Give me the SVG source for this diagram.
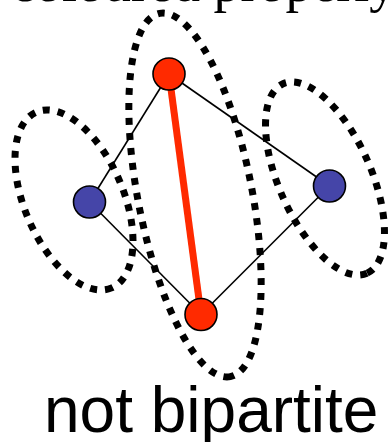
<svg xmlns="http://www.w3.org/2000/svg" width="389" height="442" viewBox="0 0 389 442">
<style>
.edge{stroke:#000;stroke-width:1.6;fill:none}
.odd{stroke:#ff2a00;stroke-width:7;fill:none}
.grp{stroke:#000;stroke-width:7;stroke-dasharray:7 8;fill:none}
.red{fill:#ff2a00;stroke:#000;stroke-width:1.6}
.blue{fill:#4545a8;stroke:#000;stroke-width:1.6}
.t1{font-family:"Liberation Serif",serif;font-size:54px;fill:#000}
.t2{font-family:"Liberation Sans",Arial,sans-serif;font-size:64px;fill:#000}
</style>
<rect width="389" height="442" fill="#fff"/>
<text class="t1" x="11" y="1">coloured properly</text>
<g id="connectors">
<line class="edge" x1="169" y1="74" x2="89.5" y2="202"/>
<line class="edge" x1="169" y1="74" x2="329.5" y2="186"/>
<line class="edge" x1="89.5" y1="202" x2="201" y2="314.5"/>
<line class="edge" x1="329.5" y1="186" x2="201" y2="314.5"/>
<line class="odd" x1="169" y1="74" x2="201" y2="314.5"/>
</g>
<g id="groups">
<ellipse id="group-left" class="grp" cx="74" cy="200" rx="95.6" ry="49.4" transform="rotate(66.8 74 200)"/>
<ellipse id="group-middle" class="grp" cx="195" cy="195" rx="185" ry="57" transform="rotate(79 195 195)"/>
<ellipse id="group-right" class="grp" cx="325" cy="178.5" rx="103.6" ry="46.1" transform="rotate(66.1 325 178.5)"/>
</g>
<g id="node-top"><circle class="red" cx="169" cy="74" r="16"/></g>
<g id="node-left"><circle class="blue" cx="89.5" cy="202" r="16"/></g>
<g id="node-right"><circle class="blue" cx="329.5" cy="186" r="16"/></g>
<g id="node-bottom"><circle class="red" cx="201" cy="314.5" r="16"/></g>
<text class="t2" x="44" y="432">not bipartite</text>
</svg>
